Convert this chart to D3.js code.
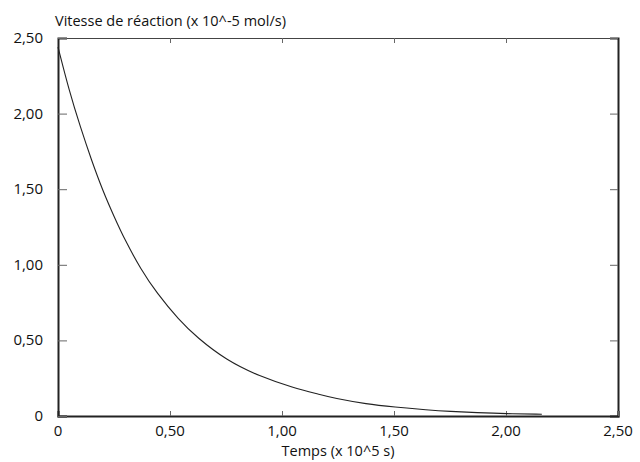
<!DOCTYPE html>
<html><head><meta charset="utf-8">
<script src="https://cdn.jsdelivr.net/npm/d3@7"></script>
<style>body{margin:0;background:#fff}svg{display:block}text{font-family:"Open Sans",sans-serif;fill:#111}</style>
</head><body><svg id="c" width="640" height="462"></svg>
<script>
const time = [0, 0.05, 0.10, 0.15, 0.20, 0.25, 0.30, 0.37, 0.44, 0.54, 0.62, 0.75, 0.90, 1.05, 1.17, 1.23, 1.38, 1.50, 1.65, 1.75, 1.87, 2.00, 2.16];
const rate = [2.44, 2.15, 1.91, 1.69, 1.49, 1.32, 1.16, 0.97, 0.815, 0.635, 0.52, 0.37, 0.262, 0.187, 0.142, 0.118, 0.078, 0.060, 0.040, 0.030, 0.022, 0.015, 0.012];
const tickValues = [0, 0.5, 1.0, 1.5, 2.0, 2.5];
const yTitle = "Vitesse de réaction (x 10^-5 mol/s)";
const xTitle = "Temps (x 10^5 s)";

const svg = d3.select("#c");
const L = 58, R = 618, T = 38, B = 416;
const x = d3.scaleLinear().domain([0, 2.5]).range([L, R]);
const y = d3.scaleLinear().domain([0, 2.5]).range([B, T]);
const fmt = v => v === 0 ? "0" : d3.format(".2f")(v).replace(".", ",");

// top axis (inward short ticks)
svg.append("g").attr("transform", `translate(0,${T})`)
  .call(d3.axisBottom(x).tickValues(tickValues).tickSize(5).tickFormat(""))
  .call(g => g.select(".domain").attr("stroke", "#444").attr("stroke-width", 1))
  .call(g => g.selectAll(".tick line").attr("stroke", "#666"));
// right axis
svg.append("g").attr("transform", `translate(${R},0)`)
  .call(d3.axisLeft(y).tickValues(tickValues).tickSize(8).tickFormat(""))
  .call(g => g.select(".domain").attr("stroke", "#222").attr("stroke-width", 2))
  .call(g => g.selectAll(".tick line").attr("stroke", "#666"));
// bottom axis
svg.append("g").attr("transform", `translate(0,${B})`)
  .call(d3.axisTop(x).tickValues(tickValues).tickSize(5).tickFormat(""))
  .call(g => g.select(".domain").attr("stroke", "#222").attr("stroke-width", 2))
  .call(g => g.selectAll(".tick line").attr("stroke", "#666"));
svg.append("g").selectAll("text").data(tickValues).join("text")
  .attr("x", d => x(d)).attr("y", 436).attr("text-anchor", "middle")
  .attr("font-size", 15).text(fmt);
// left axis
svg.append("g").attr("transform", `translate(${L},0)`)
  .call(d3.axisRight(y).tickValues(tickValues).tickSize(9).tickFormat(""))
  .call(g => g.select(".domain").attr("stroke", "#222").attr("stroke-width", 2))
  .call(g => g.selectAll(".tick line").attr("stroke", "#666"));
svg.append("g").selectAll("text").data(tickValues).join("text")
  .attr("x", 43).attr("y", d => y(d) + 5).attr("text-anchor", "end")
  .attr("font-size", 15).text(fmt);

// curve
const pts = time.map((t, i) => [t, rate[i]]);
svg.append("path").datum(pts)
  .attr("fill", "none").attr("stroke", "#222").attr("stroke-width", 1.1)
  .attr("d", d3.line().x(d => x(d[0])).y(d => y(d[1])).curve(d3.curveBasis));

svg.append("text").attr("x", 55).attr("y", 26).attr("font-size", 14.5).text(yTitle);
svg.append("text").attr("x", (L + R) / 2).attr("y", 456).attr("text-anchor", "middle")
  .attr("font-size", 14.5).text(xTitle);
</script></body></html>
